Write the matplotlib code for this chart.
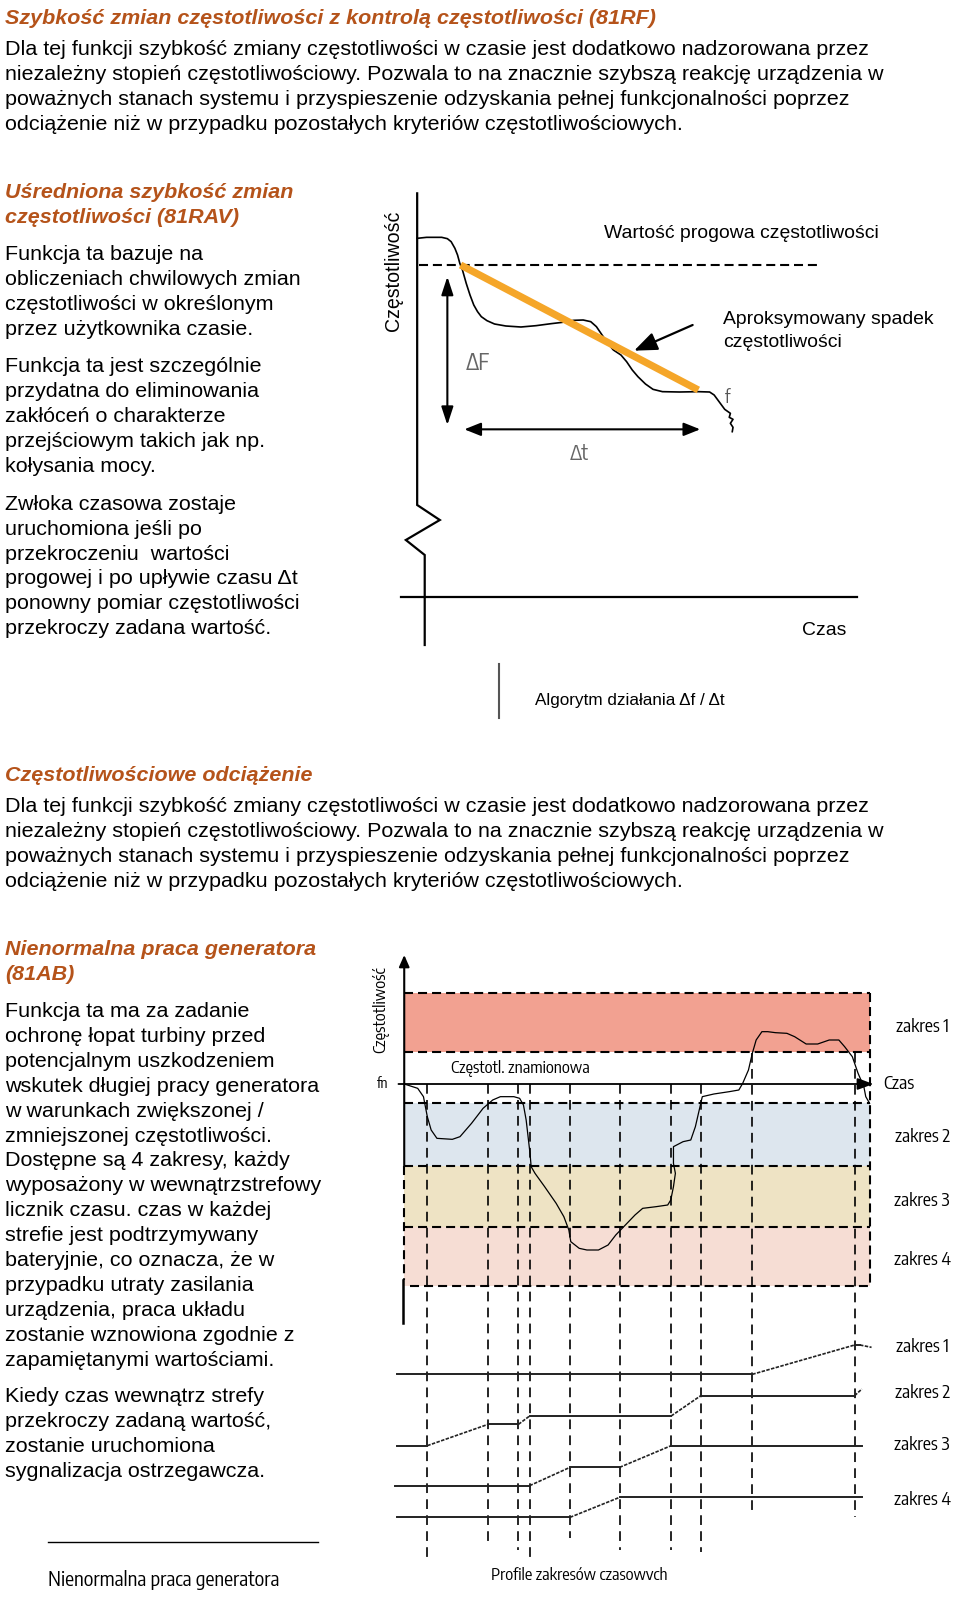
import matplotlib
matplotlib.use("Agg")
import matplotlib.pyplot as plt
from matplotlib import font_manager as fm
from matplotlib.patches import Rectangle

plt.rcParams['lines.scale_dashes'] = False

# ---------------- text content ----------------
title1 = "Szybkość zmian częstotliwości z kontrolą częstotliwości (81RF)"
para1 = ["Dla tej funkcji szybkość zmiany częstotliwości w czasie jest dodatkowo nadzorowana przez",
         "niezależny stopień częstotliwościowy. Pozwala to na znacznie szybszą reakcję urządzenia w",
         "poważnych stanach systemu i przyspieszenie odzyskania pełnej funkcjonalności poprzez",
         "odciążenie niż w przypadku pozostałych kryteriów częstotliwościowych."]
head2 = ["Uśredniona szybkość zmian", "częstotliwości (81RAV)"]
blockA = ["Funkcja ta bazuje na", "obliczeniach chwilowych zmian",
          "częstotliwości w określonym", "przez użytkownika czasie."]
blockB = ["Funkcja ta jest szczególnie", "przydatna do eliminowania",
          "zakłóceń o charakterze", "przejściowym takich jak np.", "kołysania mocy."]
blockC = ["Zwłoka czasowa zostaje", "uruchomiona jeśli po", "przekroczeniu  wartości",
          "progowej i po upływie czasu Δt", "ponowny pomiar częstotliwości",
          "przekroczy zadana wartość."]
head3 = "Częstotliwościowe odciążenie"
para2 = list(para1)
head4 = ["Nienormalna praca generatora", "(81AB)"]
blockD = ["Funkcja ta ma za zadanie", "ochronę łopat turbiny przed", "potencjalnym uszkodzeniem",
          "wskutek długiej pracy generatora", "w warunkach zwiększonej /",
          "zmniejszonej częstotliwości.", "Dostępne są 4 zakresy, każdy",
          "wyposażony w wewnątrzstrefowy", "licznik czasu. czas w każdej",
          "strefie jest podtrzymywany", "bateryjnie, co oznacza, że w",
          "przypadku utraty zasilania", "urządzenia, praca układu",
          "zostanie wznowiona zgodnie z", "zapamiętanymi wartościami."]
blockE = ["Kiedy czas wewnątrz strefy", "przekroczy zadaną wartość,",
          "zostanie uruchomiona", "sygnalizacja ostrzegawcza."]
caption1 = "Algorytm działania Δf / Δt"
caption2 = "Nienormalna praca generatora"
caption3 = "Profile zakresów czasowvch"

# ---------------- diagram 1 data (schematic units) ----------------
d1_t = [125, 150, 190, 205, 215, 225, 232, 238, 245, 255, 265, 275, 285, 295, 310, 330, 360,
        400, 440, 480, 510, 540, 565, 585, 600, 615, 630, 645, 665, 680, 695, 710, 730, 750,
        775, 820, 870, 900, 912, 925, 940, 955, 952, 962, 955, 962, 960]
d1_f = [175, 172, 172, 176, 185, 205, 225, 250, 270, 310, 345, 375, 395, 410, 422, 432, 438,
        441, 437, 431, 427, 421, 420, 425, 440, 465, 490, 510, 525, 545, 570, 590, 612, 628,
        635, 636, 635, 636, 645, 665, 688, 700, 712, 718, 730, 742, 755]
d1_approx_t = [240, 870]
d1_approx_f = [255, 630]
d1_threshold = 255

# ---------------- diagram 2 data (schematic units) ----------------
d2_t = [115, 150, 165, 175, 185, 200, 240, 260, 290, 320, 345, 365, 400, 415, 425, 432, 438,
        442, 445, 455, 480, 510, 530, 543, 548, 570, 590, 620, 645, 665, 690, 715, 735, 770,
        800, 808, 815, 820, 815, 815, 840, 860, 872, 880, 890, 920, 960, 985, 995, 1010, 1020,
        1030, 1045, 1060, 1080, 1110, 1130, 1160, 1190, 1220, 1245, 1260, 1280, 1295, 1310,
        1315, 1325]
d2_f = [432, 445, 470, 530, 570, 595, 598, 590, 550, 505, 480, 470, 470, 475, 495, 540, 600,
        640, 680, 700, 740, 790, 830, 870, 905, 925, 930, 930, 915, 885, 855, 825, 805, 800,
        795, 780, 740, 700, 670, 620, 605, 600, 560, 520, 470, 462, 455, 450, 430, 390, 340,
        300, 275, 275, 278, 280, 290, 312, 312, 300, 300, 320, 350, 400, 440, 470, 490]
band_names = ["zakres 1", "zakres 2", "zakres 3", "zakres 4"]
band_top = [160, 490, 678, 862]
band_bot = [335, 678, 862, 1038]
band_colors = ["#F2A191", "#DDE6EE", "#EEE3C4", "#F6DDD4"]
marker_t = [175, 333, 412, 441, 546, 675, 809, 886, 1020, 1286]
marker_top = [432, 432, 432, 432, 432, 432, 432, 432, 340, 340]
marker_bot = [1855, 1820, 1830, 1855, 1795, 1830, 1830, 1835, 1715, 1730]
prof_t = [[95, 1020, 1286, 1300, 1330],
          [95, 175, 333, 412, 441, 809, 886, 1286, 1305],
          [90, 441, 546, 675, 809, 1305],
          [95, 546, 675, 1305]]
prof_v = [[1303, 1303, 1215, 1215, 1222],
          [1517, 1517, 1453, 1453, 1428, 1428, 1367, 1367, 1347],
          [1637, 1637, 1582, 1582, 1517, 1517],
          [1732, 1732, 1672, 1672]]

# ---------------- fonts ----------------
SANS = fm.FontProperties(family='Liberation Sans')


def find_narrow():
    prefs = []
    for f in fm.fontManager.ttflist:
        n = f.name.lower()
        st = str(f.stretch).lower()
        if f.style != 'normal' or f.weight not in (400, 'normal', 'regular'):
            continue
        if 'liberation sans narrow' in n or 'arial narrow' in n:
            prefs.append((0, f.fname))
        elif 'condensed' in n or 'condensed' in st or 'narrow' in n:
            rank = 1 if 'sans' in n else 2
            if 'dejavu' in n:
                rank = 3
            prefs.append((rank, f.fname))
    if prefs:
        prefs.sort()
        return fm.FontProperties(fname=prefs[0][1])
    return fm.FontProperties(family='Liberation Sans')


NARROW = find_narrow()
HEAD_COLOR = '#B5531A'

W, H = 960, 1598
fig = plt.figure(figsize=(W / 100, H / 100), dpi=100)
renderer = fig.canvas.get_renderer()


def fp(base, size, **kw):
    p = base.copy()
    p.set_size(size)
    for k, v in kw.items():
        getattr(p, 'set_' + k)(v)
    return p


def fit(s, target, base, **kw):
    t = fig.text(0, 0, s, fontproperties=fp(base, 10, **kw))
    w = t.get_window_extent(renderer).width
    t.remove()
    return fp(base, 10 * target / w, **kw)


ax = fig.add_axes([0, 0, 1, 1])
ax.set_xlim(0, W)
ax.set_ylim(H, 0)
ax.axis('off')

body = fit(para1[0], 866, SANS)
head = fit(title1, 650, SANS, weight='bold', style='italic')
LS = 24.9
DY = 1.8


def block(lines, x, y0, prop, **kw):
    for i, s in enumerate(lines):
        ax.text(x, y0 + DY + i * LS, s, fontproperties=prop, va='center', ha='left', **kw)


block([title1], 5, 16.3, head, color=HEAD_COLOR)
block(para1, 5, 47.9, body)
block(head2, 5, 190.6, head, color=HEAD_COLOR)
block(blockA, 5, 252.7, body)
block(blockB, 5, 364.8, body)
block(blockC, 5, 502.4, body)
block([head3], 5, 773.4, head, color=HEAD_COLOR)
block(para2, 5, 805.0, body)
block(head4, 5, 947.7, head, color=HEAD_COLOR)
block(blockD, 5, 1009.8, body)
block(blockE, 5, 1394.9, body)

# captions
ax.text(535, 701, caption1, fontproperties=fit(caption1, 190, SANS), va='center', ha='left')
ax.plot([499, 499], [664, 718], color='#555555', lw=1.5)
ax.text(48, 1580, caption2, fontproperties=fit(caption2, 232, NARROW), va='center', ha='left')
ax.plot([48, 318], [1541.5, 1541.5], color='black', lw=1.0)

# ---------------- diagram 1 ----------------
SX1, SY1 = 2.65, 3.0
ax1 = fig.add_axes([370 / W, 1 - 650 / H, 590 / W, 470 / H])
ax1.set_xlim(0, 590 * SX1)
ax1.set_ylim(470 * SY1, 0)
ax1.axis('off')
ax1.plot([125, 125, 185, 95, 145, 145], [40, 975, 1020, 1080, 1125, 1395], color='black', lw=1.6,
         solid_joinstyle='miter')
ax1.plot([82, 1290], [1250, 1250], color='black', lw=1.6)
ax1.plot([130, 1185], [d1_threshold, d1_threshold], color='black', lw=1.5,
         linestyle=(0, (6.5, 3.5)))
ax1.plot(d1_t, d1_f, color='black', lw=1.2)
ax1.plot(d1_approx_t, d1_approx_f, color='#F5A629', lw=5.2, solid_capstyle='butt')
ax1.annotate('', xy=(205, 735), xytext=(205, 290),
             arrowprops=dict(arrowstyle='<|-|>,head_length=0.55,head_width=0.18', lw=1.5,
                             color='black', mutation_scale=20, shrinkA=0, shrinkB=0))
ax1.annotate('', xy=(875, 748), xytext=(250, 748),
             arrowprops=dict(arrowstyle='<|-|>,head_length=0.5,head_width=0.2', lw=1.5,
                             color='black', mutation_scale=20, shrinkA=0, shrinkB=0))
ax1.annotate('', xy=(700, 512), xytext=(855, 435),
             arrowprops=dict(arrowstyle='-|>,head_length=0.7,head_width=0.28', lw=1.6,
                             color='black', mutation_scale=20, shrinkA=0, shrinkB=0))
lab1 = fit("Wartość progowa częstotliwości", 274, SANS)
ax1.text(620, 160, "Wartość progowa częstotliwości", fontproperties=lab1, va='center')
ax1.text(935, 420, "Aproksymowany spadek", fontproperties=lab1, va='center')
ax1.text(935, 487, "częstotliwości", fontproperties=lab1, va='center')
ax1.text(1145, 1352, "Czas", fontproperties=lab1, va='center')
ax1.text(62, 272, "Częstotliwość", fontproperties=fit("Częstotliwość", 120, SANS), rotation=90,
         va='center', ha='center')
ax1.text(255, 550, "ΔF", fontproperties=fit("ΔF", 24, NARROW),
         color='#666666', va='center', ha='left')
ax1.text(530, 822, "Δt", fontproperties=fit("Δt", 19, NARROW),
         color='#666666', va='center', ha='left')
ax1.text(940, 655, "f", fontproperties=fp(NARROW, 12.5), color='#555555',
         va='center', ha='left')

# ---------------- diagram 2 ----------------
SX2, SY2 = 2.6, 3.0
ax2 = fig.add_axes([360 / W, 0, 600 / W, 658 / H])
ax2.set_xlim(0, 600 * SX2)
ax2.set_ylim(658 * SY2, 0)
ax2.axis('off')
DASH = (0, (6.5, 3.6))
for top, bot, col in zip(band_top, band_bot, band_colors):
    ax2.add_patch(Rectangle((115, top), 1325 - 115, bot - top, facecolor=col,
                            edgecolor='none', zorder=0))
for yv in band_top + [335]:
    ax2.plot([115, 1325], [yv, yv], color='black', lw=1.5, linestyle=DASH, zorder=2)
ax2.plot([130, 1330], [1038, 1038], color='black', lw=1.5, linestyle=DASH, zorder=2)
ax2.plot([1325, 1325], [160, 1038], color='black', lw=1.5, linestyle=DASH, zorder=2)
ax2.plot([115, 115], [678, 1020], color='black', lw=1.5, linestyle=DASH, zorder=2)
for xv, y0, y1 in zip(marker_t, marker_top, marker_bot):
    ax2.plot([xv, xv], [y0, y1], color='black', lw=1.2, linestyle=(0, (7, 4.5)), zorder=2)
ax2.annotate('', xy=(115, 45), xytext=(115, 678),
             arrowprops=dict(arrowstyle='-|>,head_length=0.5,head_width=0.22', lw=1.5,
                             color='black', mutation_scale=14, shrinkA=0, shrinkB=0), zorder=3)
ax2.plot([113, 113], [1020, 1150], color='black', lw=1.8, zorder=3)
ax2.annotate('', xy=(1335, 432), xytext=(100, 432),
             arrowprops=dict(arrowstyle='-|>,head_length=0.6,head_width=0.22', lw=1.3,
                             color='black', mutation_scale=16, shrinkA=0, shrinkB=0), zorder=3)
ax2.plot(d2_t, d2_f, color='black', lw=0.9, zorder=4)

for tt, vv in zip(prof_t, prof_v):
    for i in range(len(tt) - 1):
        flat = vv[i] == vv[i + 1]
        ax2.plot(tt[i:i + 2], vv[i:i + 2], color='#222222', lw=1.4 if flat else 1.2,
                 linestyle='-' if flat else (0, (2.5, 1.0)), zorder=3)

zprop = fit("zakres 1", 53, NARROW)
z_label_y1 = [262, 590, 782, 960]
z_label_y2 = [1220, 1360, 1515, 1680]
for name, yv in zip(band_names, z_label_y1):
    ax2.text(1462, yv, name, fontproperties=zprop, va='center', ha='center')
for name, yv in zip(band_names, z_label_y2):
    ax2.text(1462, yv, name, fontproperties=zprop, va='center', ha='center')
ax2.text(237, 385, "Częstotl. znamionowa", fontproperties=fit("Częstotl. znamionowa", 139, NARROW),
         va='center', ha='left')
ax2.text(1360, 432, "Czas", fontproperties=fit("Czas", 31, NARROW), va='center', ha='left')
ax2.text(60, 432, "fn", fontproperties=fit("fn", 11.5, NARROW), va='center', ha='center')
ax2.text(55, 210, "Częstotliwość", fontproperties=fit("Częstotliwość", 87, NARROW),
         rotation=90, va='center', ha='center')
ax2.text(570, 1905, caption3, fontproperties=fit(caption3, 177, NARROW),
         va='center', ha='center')

fig.savefig("out.png", dpi=100)
